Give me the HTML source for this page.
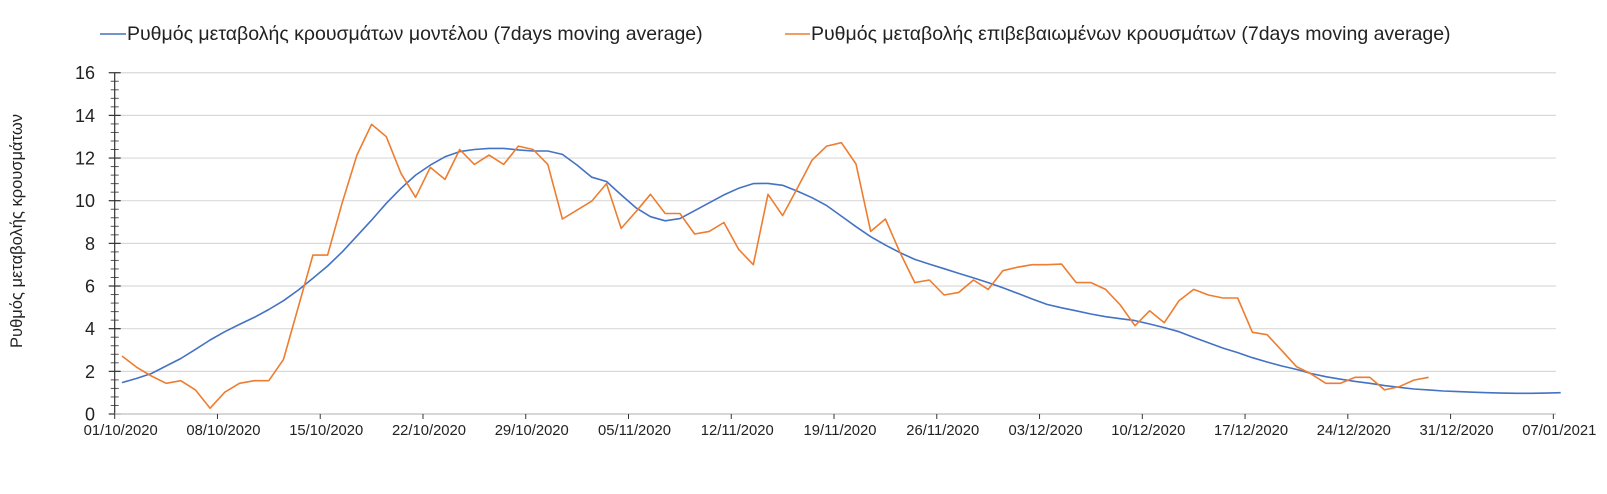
<!DOCTYPE html>
<html><head><meta charset="utf-8"><style>
body{margin:0;background:#fff;}
svg{display:block;font-family:"Liberation Sans",sans-serif;}
</style></head><body>
<svg id="chart" width="1607" height="494">
<g id="grid"></g>
<g id="yaxis"></g>
<g id="xaxis"></g>
<g id="series"></g>
<text x="22" y="231" transform="rotate(-90 22 231)" text-anchor="middle" font-size="16.5" fill="#222">Ρυθμός μεταβολής κρουσμάτων</text>
<g>
<line x1="100" y1="34" x2="126" y2="34" stroke="#4472C4" stroke-width="1.5"/>
<text x="127" y="40" font-size="19.5" fill="#222">Ρυθμός μεταβολής κρουσμάτων μοντέλου (7days moving average)</text>
</g>
<g>
<line x1="785" y1="34" x2="810" y2="34" stroke="#ED7D31" stroke-width="1.5"/>
<text x="811" y="40" font-size="19.5" fill="#222">Ρυθμός μεταβολής επιβεβαιωμένων κρουσμάτων (7days moving average)</text>
</g>
</svg>
<script>
const yTicks=[0,2,4,6,8,10,12,14,16];
const xTickLabels=["01/10/2020","08/10/2020","15/10/2020","22/10/2020","29/10/2020","05/11/2020","12/11/2020","19/11/2020","26/11/2020","03/12/2020","10/12/2020","17/12/2020","24/12/2020","31/12/2020","07/01/2021"];
const modelValues=[1.47,1.67,1.9,2.25,2.6,3.03,3.47,3.86,4.2,4.53,4.9,5.31,5.81,6.36,6.94,7.6,8.34,9.09,9.88,10.58,11.2,11.67,12.06,12.3,12.4,12.45,12.45,12.38,12.33,12.33,12.17,11.67,11.1,10.9,10.27,9.67,9.25,9.06,9.16,9.53,9.9,10.27,10.58,10.8,10.81,10.72,10.45,10.14,9.77,9.28,8.78,8.31,7.92,7.56,7.25,7.03,6.81,6.59,6.38,6.16,5.92,5.66,5.39,5.14,4.98,4.84,4.69,4.56,4.47,4.38,4.22,4.05,3.86,3.59,3.34,3.09,2.88,2.64,2.44,2.25,2.09,1.9,1.75,1.63,1.53,1.44,1.33,1.25,1.17,1.13,1.08,1.05,1.02,1.0,0.98,0.97,0.97,0.98,1.0];
const confirmedValues=[2.72,2.19,1.78,1.44,1.56,1.13,0.27,1.02,1.44,1.56,1.56,2.56,5.0,7.45,7.45,9.9,12.14,13.58,13.0,11.28,10.16,11.56,11.0,12.4,11.7,12.14,11.7,12.56,12.4,11.7,9.14,9.56,9.98,10.8,8.7,9.48,10.3,9.4,9.4,8.44,8.56,8.98,7.72,7.0,10.3,9.3,10.58,11.9,12.56,12.72,11.72,8.56,9.14,7.56,6.16,6.28,5.58,5.7,6.28,5.84,6.72,6.88,7.0,7.0,7.03,6.16,6.16,5.84,5.11,4.14,4.84,4.28,5.31,5.84,5.58,5.44,5.44,3.83,3.72,2.97,2.22,1.88,1.44,1.44,1.72,1.72,1.13,1.28,1.59,1.72];

const NS="http://www.w3.org/2000/svg";
const X0=114.7, STEP=14.68, Y0=414, YK=21.33, XR=1556;
function xc(i){return X0+(i+0.5)*STEP;}
function xt(k){return X0+k*7*STEP;}
function yv(v){return Y0-v*YK;}
function mk(tag,attrs,parent){const e=document.createElementNS(NS,tag);for(const k in attrs)e.setAttribute(k,attrs[k]);parent.appendChild(e);return e;}
const grid=document.getElementById('grid'),ya=document.getElementById('yaxis'),xa=document.getElementById('xaxis'),se=document.getElementById('series');
yTicks.forEach(t=>{
  if(t>0){const g=mk('line',{x1:X0,x2:XR,y1:yv(t),y2:yv(t),stroke:'#d9d9d9','stroke-width':1.2},grid);
  
  }
  mk('line',{x1:X0-6,x2:X0+6,y1:yv(t),y2:yv(t),stroke:'#333','stroke-width':1.2},ya);
  const tx=mk('text',{x:95,y:yv(t)+6.5,'text-anchor':'end','font-size':18,fill:'#222'},ya);
  tx.textContent=t;
  
  
});
for(let v=0.4;v<16;v+=0.4){if(Math.abs(v/2-Math.round(v/2))<0.01)continue;mk('line',{x1:X0-4,x2:X0+4,y1:yv(v),y2:yv(v),stroke:'#555','stroke-width':1},ya);}
mk('line',{x1:X0,x2:X0,y1:yv(16),y2:Y0,stroke:'#333','stroke-width':1.2},ya);
mk('line',{x1:X0,x2:XR,y1:Y0,y2:Y0,stroke:'#bfbfbf','stroke-width':1.2},xa);
xTickLabels.forEach((l,k)=>{
  mk('line',{x1:xt(k),x2:xt(k),y1:Y0,y2:Y0+5,stroke:'#333','stroke-width':1},xa);
  const tx=mk('text',{x:xt(k)+6,y:Y0+21,'text-anchor':'middle','font-size':14.8,fill:'#222'},xa);
  tx.textContent=l;
  
  
});
function line(vals,color,name){
  const p=mk('polyline',{points:vals.map((v,i)=>xc(i).toFixed(1)+','+yv(v).toFixed(1)).join(' '),fill:'none',stroke:color,'stroke-width':1.6,'stroke-linejoin':'round'},se);
  
  
}
line(modelValues,'#4472C4','model-line');
line(confirmedValues,'#ED7D31','confirmed-line');
</script>
</body></html>
